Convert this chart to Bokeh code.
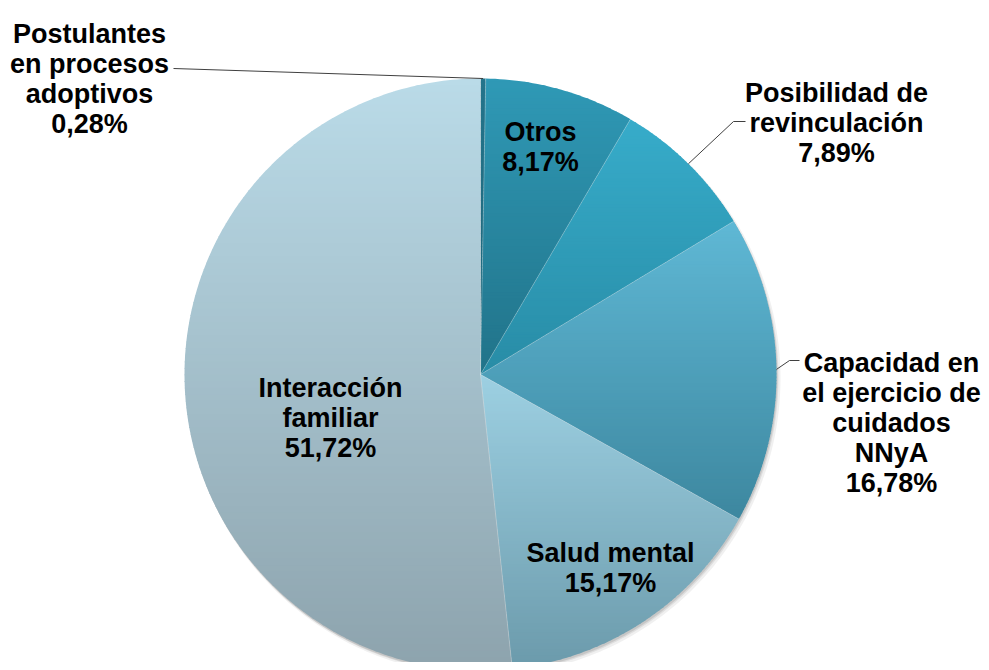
import numpy as np
from bokeh.plotting import figure
from bokeh.models import Range1d
from bokeh.core.properties import value
from bokeh.embed import file_html
from bokeh.resources import INLINE

# ---------------- data ----------------
categories = ["Postulantes en procesos adoptivos", "Otros", "Posibilidad de revinculación",
              "Capacidad en el ejercicio de cuidados NNyA", "Salud mental", "Interacción familiar"]
values = [0.28, 8.17, 7.89, 16.78, 15.17, 51.72]
label_lines = [["Postulantes", "en procesos", "adoptivos"],
               ["Otros"],
               ["Posibilidad de", "revinculación"],
               ["Capacidad en", "el ejercicio de", "cuidados", "NNyA"],
               ["Salud mental"],
               ["Interacción", "familiar"]]
top_colors = ["#24748b", "#2f99b6", "#37acca", "#5fb8d5", "#9dd0e2", "#badbe8"]
bottom_colors = ["#1d6579", "#217389", "#288ca6", "#3d879f", "#6b9aab", "#8da3ad"]

# ---------------- layout ----------------
W, H = 981, 662
X0, Y0 = 0, 0                      # data coords equal picture pixels
CX, CY, R = 480, 374, 296
label_pos = [(89, 33), (540, 131), (836, 92), (891, 362), (610, 552), (330, 387)]
LINE_H = 30
leader_pts = {0: [(173, 68)], 2: [(745, 121), (733, 121)], 3: [(799, 360), (789, 360)]}
N_STRIPS = 90


def hex2rgb(h):
    return tuple(int(h[i:i + 2], 16) for i in (1, 3, 5))


def mix(c0, c1, t):
    a, b = hex2rgb(c0), hex2rgb(c1)
    return "#%02x%02x%02x" % tuple(int(round(a[i] + (b[i] - a[i]) * t)) for i in range(3))


def clip(poly, yv, keep_greater):
    out = []
    n = len(poly)
    for i in range(n):
        P, Q = poly[i], poly[(i + 1) % n]
        inP = P[1] >= yv if keep_greater else P[1] <= yv
        inQ = Q[1] >= yv if keep_greater else Q[1] <= yv
        if inP:
            out.append(P)
        if inP != inQ:
            t = (yv - P[1]) / (Q[1] - P[1])
            out.append((P[0] + t * (Q[0] - P[0]), yv))
    return out


def pt(frac, r=R):
    a = 2 * np.pi * frac
    return CX + r * np.sin(a), CY - r * np.cos(a)


p = figure(width=W, height=H, output_backend="svg", toolbar_location=None,
           x_range=Range1d(X0, X0 + W), y_range=Range1d(Y0 + H, Y0),
           min_border=0, x_axis_location=None, y_axis_location=None,
           outline_line_color=None, background_fill_color="white", border_fill_color="white")
p.grid.visible = False

# soft shadow
circ = np.linspace(0, 1, 361)
for dx, dy, rr, al in [(3, 4, R + 1, 0.06), (2, 3, R, 0.08), (1, 2, R, 0.10)]:
    p.patch([CX + dx + rr * np.sin(2 * np.pi * f) for f in circ],
            [CY + dy - rr * np.cos(2 * np.pi * f) for f in circ],
            fill_color="#000000", fill_alpha=al, line_color=None)

total = sum(values)
starts = np.cumsum([0] + values[:-1]) / total
ends = np.cumsum(values) / total

xs_all, ys_all, cols = [], [], []
for i in range(len(values)):
    a0, a1 = starts[i], ends[i]
    nseg = max(3, int(400 * (a1 - a0)))
    poly = [(CX, CY)] + [pt(f) for f in np.linspace(a0, a1, nseg + 1)]
    ymin = min(q[1] for q in poly)
    ymax = max(q[1] for q in poly)
    edges = np.linspace(ymin, ymax, N_STRIPS + 1)
    for k in range(N_STRIPS):
        s = clip(poly, edges[k], True)
        if len(s) < 3:
            continue
        s = clip(s, edges[k + 1] + 0.8, False)
        if len(s) < 3:
            continue
        t = (0.5 * (edges[k] + edges[k + 1]) - ymin) / (ymax - ymin)
        xs_all.append([q[0] for q in s])
        ys_all.append([q[1] for q in s])
        cols.append(mix(top_colors[i], bottom_colors[i], t))

p.patches(xs_all, ys_all, fill_color=cols, line_color=None)

# faint slice separators
sep_x, sep_y = [], []
for f in starts:
    ex, ey = pt(f)
    sep_x.append([CX, ex])
    sep_y.append([CY, ey])
p.multi_line(sep_x, sep_y, line_color="#ffffff", line_alpha=0.25, line_width=1)

# leader lines
lx, ly = [], []
for i, pts in leader_pts.items():
    ex, ey = pt(0.5 * (starts[i] + ends[i]))
    lx.append([q[0] for q in pts] + [ex])
    ly.append([q[1] for q in pts] + [ey])
p.multi_line(lx, ly, line_color="#404040", line_width=1)

# labels
tx, ty, tt = [], [], []
for i in range(len(values)):
    lines = label_lines[i] + [("%.2f%%" % values[i]).replace(".", ",")]
    x, y = label_pos[i]
    for j, s in enumerate(lines):
        tx.append(x)
        ty.append(y + j * LINE_H)
        tt.append(s)
p.text(x=tx, y=ty, text=tt, text_font=value("Liberation Sans"), text_font_style="bold",
       text_font_size="27px", text_align="center", text_baseline="alphabetic",
       text_color="#000000")

open("out.html", "w").write(file_html(p, INLINE))
